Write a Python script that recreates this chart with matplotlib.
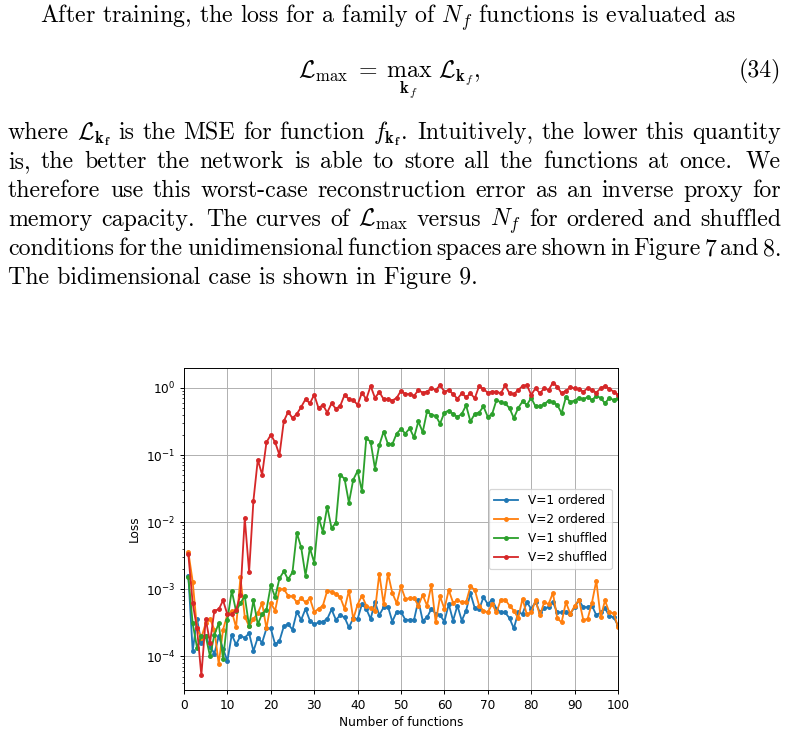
import matplotlib
matplotlib.use("Agg")
import matplotlib.pyplot as plt
from matplotlib.transforms import IdentityTransform
import numpy as np

# ---------------- data ----------------
n_functions = list(range(1, 101))

v1_ordered = [1.6e-3, 1.2e-4, 3.6e-4, 1.6e-4, 2.0e-4, 1.4e-4, 1.1e-4, 2.0e-4, 1.3e-4, 8.5e-5,
              2.1e-4, 1.5e-4, 2.0e-4, 1.9e-4, 2.2e-4, 1.2e-4, 1.9e-4, 1.6e-4, 2.6e-4, 2.6e-4,
              1.5e-4, 1.7e-4, 2.8e-4, 3.0e-4, 2.5e-4, 4.6e-4, 3.5e-4, 5.1e-4, 3.4e-4, 3.0e-4,
              3.2e-4, 3.3e-4, 3.6e-4, 5.0e-4, 3.5e-4, 4.1e-4, 3.8e-4, 2.7e-4, 3.7e-4, 3.6e-4,
              6.0e-4, 5.1e-4, 3.6e-4, 6.5e-4, 4.1e-4, 5.4e-4, 5.5e-4, 3.3e-4, 4.6e-4, 4.6e-4,
              3.5e-4, 3.5e-4, 3.5e-4, 6.8e-4, 3.4e-4, 3.8e-4, 5.1e-4, 4.3e-4, 4.1e-4, 3.3e-4,
              6.0e-4, 3.4e-4, 5.7e-4, 3.4e-4, 4.8e-4, 8.7e-4, 5.2e-4, 5.0e-4, 7.6e-4, 6.0e-4,
              7.0e-4, 5.1e-4, 4.5e-4, 4.5e-4, 3.7e-4, 2.6e-4, 4.5e-4, 4.3e-4, 6.4e-4, 5.1e-4,
              6.5e-4, 4.5e-4, 5.2e-4, 5.4e-4, 6.4e-4, 4.5e-4, 4.5e-4, 4.5e-4, 4.3e-4, 5.4e-4,
              6.8e-4, 5.4e-4, 5.4e-4, 5.7e-4, 4.1e-4, 4.5e-4, 5.2e-4, 4.0e-4, 3.8e-4, 2.9e-4]

v2_ordered = [3.6e-3, 1.3e-3, 2.6e-4, 1.9e-4, 3.1e-4, 3.6e-4, 2.5e-4, 7.7e-5, 2.5e-4, 4.2e-4,
              4.7e-4, 2.7e-4, 1.5e-3, 3.9e-4, 2.8e-4, 3.6e-4, 4.4e-4, 6.2e-4, 2.6e-4, 6.2e-4,
              4.8e-4, 1.0e-3, 1.0e-3, 8.0e-4, 7.8e-4, 6.4e-4, 7.3e-4, 6.4e-4, 7.3e-4, 4.6e-4,
              5.1e-4, 5.7e-4, 9.5e-4, 9.2e-4, 8.5e-4, 7.6e-4, 5.1e-4, 9.5e-4, 3.6e-4, 5.9e-4,
              8.0e-4, 5.7e-4, 5.2e-4, 4.8e-4, 1.7e-3, 6.0e-4, 1.7e-3, 8.8e-4, 6.2e-4, 1.1e-3,
              7.2e-4, 7.3e-4, 7.4e-4, 5.7e-4, 8.2e-4, 5.7e-4, 1.15e-3, 3.2e-4, 7.8e-4, 5.1e-4,
              9.7e-4, 6.3e-4, 6.8e-4, 6.4e-4, 6.4e-4, 1.1e-3, 9.8e-4, 5.7e-4, 4.8e-4, 4.5e-4,
              6.0e-4, 4.5e-4, 7.0e-4, 7.0e-4, 5.7e-4, 4.8e-4, 3.7e-4, 7.2e-4, 4.2e-4, 4.5e-4,
              6.8e-4, 4.1e-4, 6.4e-4, 6.0e-4, 8.8e-4, 3.7e-4, 3.2e-4, 6.4e-4, 4.3e-4, 5.6e-4,
              7.0e-4, 3.5e-4, 3.6e-4, 6.3e-4, 1.34e-3, 3.8e-4, 6.8e-4, 4.5e-4, 4.4e-4, 2.7e-4]

v1_shuffled = [1.5e-3, 3.1e-4, 1.35e-4, 2.0e-4, 2.0e-4, 1.0e-4, 2.1e-4, 3.1e-4, 9.0e-5, 3.5e-4,
               9.5e-4, 4.7e-4, 6.2e-4, 7.9e-4, 2.8e-4, 6.8e-4, 3.0e-4, 4.3e-4, 4.9e-4, 1.15e-3,
               7.6e-4, 1.45e-3, 1.85e-3, 1.4e-3, 1.8e-3, 6.9e-3, 4.2e-3, 1.6e-3, 4.1e-3, 2.5e-3,
               1.17e-2, 7.2e-3, 1.7e-2, 8.1e-3, 9.8e-3, 5.1e-2, 4.4e-2, 1.95e-2, 4.3e-2, 5.8e-2,
               2.9e-2, 0.178, 0.158, 6.3e-2, 0.141, 0.224, 0.145, 0.145, 0.209, 0.245,
               0.209, 0.25, 0.183, 0.317, 0.22, 0.446, 0.398, 0.385, 0.294, 0.43,
               0.46, 0.41, 0.37, 0.41, 0.55, 0.317, 0.41, 0.43, 0.53, 0.37,
               0.41, 0.66, 0.61, 0.59, 0.50, 0.355, 0.50, 0.63, 0.56, 0.71,
               0.53, 0.53, 0.57, 0.65, 0.61, 0.56, 0.42, 0.73, 0.62, 0.65,
               0.71, 0.68, 0.73, 0.66, 0.76, 0.71, 0.59, 0.71, 0.66, 0.71]

v2_shuffled = [3.3e-3, 6.2e-4, 2.6e-4, 5.2e-5, 3.6e-4, 1.6e-4, 4.8e-4, 5.0e-4, 6.8e-4, 4.2e-4,
               4.2e-4, 4.9e-4, 8.3e-4, 1.15e-2, 1.8e-3, 2.1e-2, 8.5e-2, 5.1e-2, 0.155, 0.20,
               0.155, 0.10, 0.32, 0.44, 0.355, 0.41, 0.52, 0.68, 0.59, 0.79,
               0.50, 0.56, 0.43, 0.59, 0.49, 0.54, 0.79, 0.68, 0.66, 0.56,
               0.85, 0.68, 1.07, 0.71, 0.87, 0.68, 0.68, 0.65, 0.71, 0.91,
               0.81, 0.81, 0.76, 0.93, 0.85, 0.88, 0.99, 0.93, 1.10, 0.88,
               0.93, 0.81, 0.69, 0.83, 0.73, 0.83, 0.70, 1.07, 0.96, 0.85,
               0.88, 0.88, 0.83, 1.10, 0.83, 0.81, 0.93, 1.07, 1.10, 0.79,
               0.99, 0.83, 0.99, 0.93, 1.20, 1.05, 0.83, 0.91, 1.02, 0.99,
               0.96, 0.88, 0.99, 0.93, 0.85, 0.99, 1.07, 0.97, 0.88, 0.79]

series_labels = ["V=1 ordered", "V=2 ordered", "V=1 shuffled", "V=2 shuffled"]
x_ticks = list(range(0, 101, 10))

# ---------------- style (chart rendered at ~87.5 px/inch) ----------------
s = 0.875
plt.rcParams.update({
    "font.size": 10 * s,
    "axes.linewidth": 0.8 * s,
    "grid.linewidth": 0.8 * s,
    "lines.linewidth": 1.5 * s,
    "lines.markersize": 6 * s,
    "lines.markeredgewidth": 1.0 * s,
    "patch.linewidth": 1.0 * s,
    "xtick.major.size": 3.5 * s, "ytick.major.size": 3.5 * s,
    "xtick.minor.size": 2.0 * s, "ytick.minor.size": 2.0 * s,
    "xtick.major.width": 0.8 * s, "ytick.major.width": 0.8 * s,
    "xtick.minor.width": 0.6 * s, "ytick.minor.width": 0.6 * s,
    "xtick.major.pad": 3.5 * s, "ytick.major.pad": 3.5 * s,
    "axes.labelpad": 4.0 * s,
})

W, H = 789, 732
fig = plt.figure(figsize=(W / 100, H / 100), dpi=100)
fig.patch.set_facecolor("white")

ax = fig.add_axes([184 / W, 1 - 690 / H, 434 / W, 322 / H])
for vals, lab in zip([v1_ordered, v2_ordered, v1_shuffled, v2_shuffled], series_labels):
    ax.plot(n_functions, vals, marker=".", label=lab)
ax.set_yscale("log")
ax.set_xlim(0, 100)
ax.set_xticks(x_ticks)
ax.grid(True)
ax.set_xlabel("Number of functions")
ax.set_ylabel("Loss")
ax.legend(loc="center right")

# ---------------- paragraph text ----------------
FS = 17.2
TXT = dict(fontsize=FS, fontfamily="cmr10", math_fontfamily="cm",
           va="baseline", ha="left", transform=IdentityTransform(), color="black")
renderer = fig.canvas.get_renderer()


def plain_line(text, x0, y_base):
    fig.text(x0, H - y_base, text, **TXT)


def justified_line(words, x0, x1, y_base):
    objs = [fig.text(0, H - y_base, w, **TXT) for w in words]
    widths = [o.get_window_extent(renderer).width for o in objs]
    weights = [1.35 if w.endswith(".") else 1.0 for w in words[:-1]]
    gap = (x1 - x0 - sum(widths)) / sum(weights)
    x = x0
    for o, wd, wt in zip(objs, widths, weights + [0]):
        o.set_x(x)
        x += wd + gap * wt


plain_line(r"After training, the loss for a family of $N_f$ functions is evaluated as", 40, 23)

fig.text(389, H - 77,
         r"$\mathcal{L}_{\max}\;=\;\max_{\mathbf{k}_f}\ \mathcal{L}_{\mathbf{k}_f},$",
         **{**TXT, "ha": "center"})
fig.text(781, H - 77, "(34)", **{**TXT, "ha": "right"})

L0, L1 = 8, 781
lines = [
    (r"where $\mathcal{L}_{\mathbf{k_f}}$ is the MSE for function $f_{\mathbf{k_f}}$. Intuitively, the lower this quantity", 139),
    (r"is, the better the network is able to store all the functions at once. We", 168),
    (r"therefore use this worst-case reconstruction error as an inverse proxy for", 197),
    (r"memory capacity. The curves of $\mathcal{L}_{\max}$ versus $N_f$ for ordered and shuffled", 226),
    (r"conditions for the unidimensional function spaces are shown in Figure 7 and 8.", 255),
]
for txt, yb in lines:
    justified_line(txt.split(" "), L0, L1, yb)
plain_line("The bidimensional case is shown in Figure 9.", L0, 284)

fig.savefig("out.png", dpi=100, facecolor="white")
